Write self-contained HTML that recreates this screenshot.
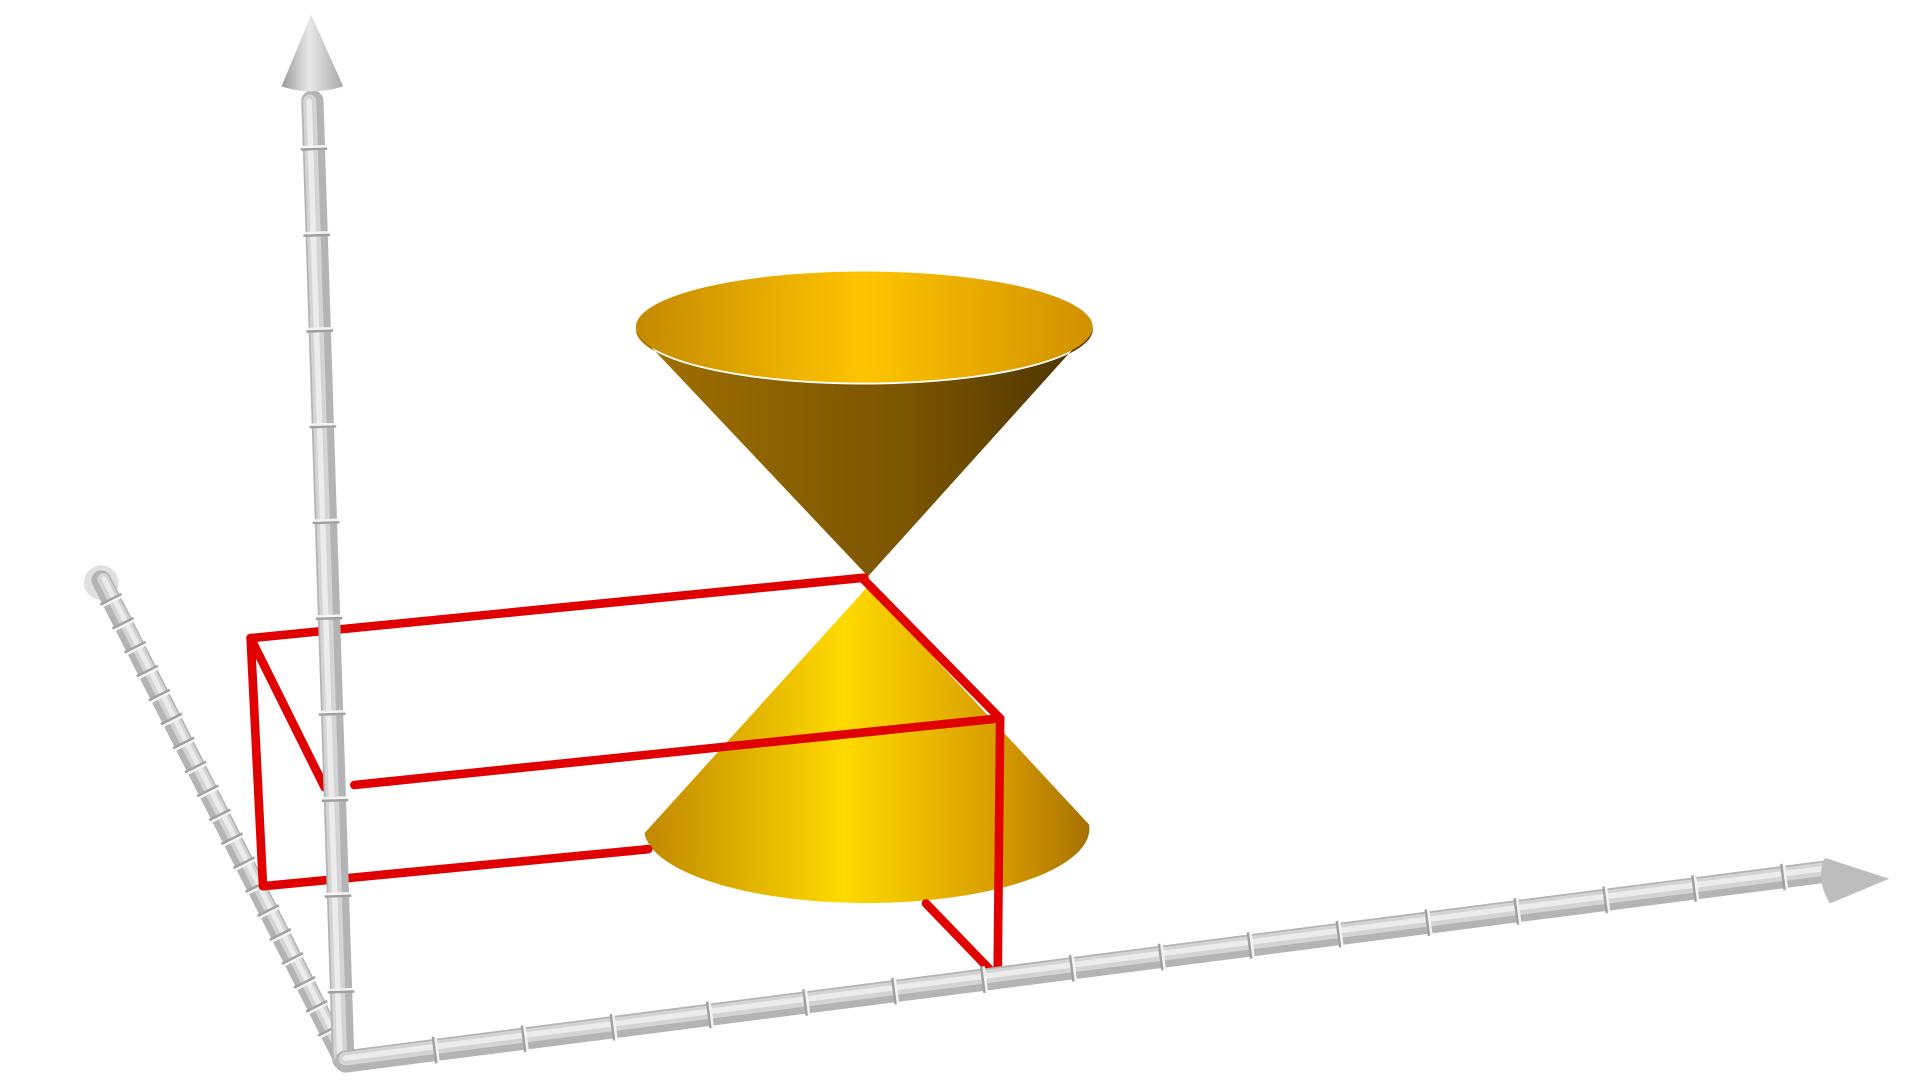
<!DOCTYPE html>
<html><head><meta charset="utf-8"><style>
html,body{margin:0;padding:0;background:#fff;width:1920px;height:1080px;overflow:hidden}
svg{display:block}
</style></head><body>
<svg id="chart" width="1920" height="1080" viewBox="0 0 1555 875" preserveAspectRatio="none" xmlns="http://www.w3.org/2000/svg">
<defs>
<linearGradient id="tube" x1="0" y1="0" x2="1" y2="0"><stop offset="0" stop-color="#9a9a9a"/><stop offset=".45" stop-color="#e8e8e8"/><stop offset="1" stop-color="#a8a8a8"/></linearGradient>
<linearGradient id="inner" x1="0" y1="0" x2="1" y2="0"><stop offset="0" stop-color="#c48a00"/><stop offset=".5" stop-color="#ffc400"/><stop offset="1" stop-color="#d09000"/></linearGradient>
<linearGradient id="outerTop" x1="0" y1="0" x2="1" y2="0"><stop offset="0" stop-color="#a07000"/><stop offset=".6" stop-color="#7a5400"/><stop offset="1" stop-color="#4a3300"/></linearGradient>
<linearGradient id="lower" x1="0" y1="0" x2="1" y2="0"><stop offset="0" stop-color="#c08800"/><stop offset=".45" stop-color="#ffda00"/><stop offset=".8" stop-color="#d79b00"/><stop offset="1" stop-color="#a67200"/></linearGradient>
</defs>
<g id="axes"></g>
<g id="cone"></g>
<g id="box"></g>
<g id="front"></g>
</svg>
<script>
// tick fractions along each axis
const xTicks = [0.06,0.12,0.18,0.245,0.31,0.37,0.43,0.49,0.55,0.61,0.67,0.73,0.79,0.85,0.91,0.97];
const yTicks = [0.07,0.17,0.27,0.36,0.46,0.56,0.66,0.76,0.86,0.95];
const zTicks = [0.04,0.09,0.14,0.19,0.24,0.29,0.34,0.39,0.44,0.49,0.54,0.59,0.64,0.69,0.74,0.79,0.84,0.89,0.94];
const boxEdges = [
 [[203,517],[700,468]],[[203,517],[263,638]],[[203,517],[213,718]],
 [[213,718],[525,688]],[[287,636],[810,582]],[[700,470],[810,582]],
 [[810,582],[808,790]],[[750,732],[806,790]]
];
const NS='http://www.w3.org/2000/svg';
function mk(tag,attrs,parent,name){const e=document.createElementNS(NS,tag);for(const k in attrs)e.setAttribute(k,attrs[k]);


parent.appendChild(e);return e;}
const axes=document.getElementById('axes'), front=document.getElementById('front');
function tube(p,q,parent,name,w){
 const dx=q[0]-p[0],dy=q[1]-p[1],L=Math.hypot(dx,dy),nx=-dy/L,ny=dx/L;
 mk('line',{x1:p[0],y1:p[1],x2:q[0],y2:q[1],stroke:'#b4b4b4','stroke-width':w,'stroke-linecap':'round'},parent,name);
 mk('line',{x1:p[0]-nx*w*0.12,y1:p[1]-ny*w*0.12,x2:q[0]-nx*w*0.12,y2:q[1]-ny*w*0.12,stroke:'#d4d4d4','stroke-width':w*0.6,'stroke-linecap':'round'},parent,name+'-shade');
 mk('line',{x1:p[0]-nx*w*0.15,y1:p[1]-ny*w*0.15,x2:q[0]-nx*w*0.15,y2:q[1]-ny*w*0.15,stroke:'#ececec','stroke-width':w*0.25,'stroke-linecap':'round'},parent,name+'-highlight');
}
function ticks(p,q,arr,parent,name,w){
 const dx=q[0]-p[0],dy=q[1]-p[1],L=Math.hypot(dx,dy),nx=-dy/L,ny=dx/L,ux=dx/L,uy=dy/L;
 arr.forEach(t=>{const cx=p[0]+dx*t,cy=p[1]+dy*t;
  mk('line',{x1:cx-nx*w*0.6,y1:cy-ny*w*0.6,x2:cx+nx*w*0.6,y2:cy+ny*w*0.6,stroke:'#a0a0a0','stroke-width':2},parent,name);
  mk('line',{x1:cx-nx*w*0.6+ux*2,y1:cy-ny*w*0.6+uy*2,x2:cx+nx*w*0.6+ux*2,y2:cy+ny*w*0.6+uy*2,stroke:'#f4f4f4','stroke-width':2},parent,name);});
}
// z (depth) axis
const zA=[82,470],zB=[278,858];
mk('circle',{cx:82,cy:472,r:14,fill:'#e0e0e0'},axes,'z-axis-end-cap');
tube(zA,zB,axes,'z-axis',16); ticks(zA,zB,zTicks,axes,'z-axis-tick',16);
// cones
const cone=document.getElementById('cone');
mk('path',{d:'M515,268 L703,467 L885,265 A185,45 0 0 1 515,268 Z',fill:'url(#outerTop)'},cone,'upper-cone-outer');
mk('ellipse',{cx:700,cy:265,rx:185,ry:45,fill:'url(#inner)'},cone,'upper-cone-inner');
mk('path',{d:'M703,475 L522,675 A180,60 0 0 0 882,668 Z',fill:'url(#lower)'},cone,'lower-cone');
// red box
const box=document.getElementById('box');
boxEdges.forEach(e=>mk('line',{x1:e[0][0],y1:e[0][1],x2:e[1][0],y2:e[1][1],stroke:'#e00000','stroke-width':7,'stroke-linecap':'round'},box,'box-edge'));
// y (vertical) axis drawn in front of box
const yA=[278,858],yB=[253,82];
tube(yA,yB,front,'y-axis',18); ticks(yA,yB,yTicks,front,'y-axis-tick',18);
mk('path',{d:'M252,12 L228,70 Q252,78 278,70 Z',fill:'url(#tube)'},front,'y-axis-arrowhead');
// x axis
const xA=[280,860],xB=[1480,706];
tube(xA,xB,front,'x-axis',18); ticks(xA,xB,xTicks,front,'x-axis-tick',18);
mk('path',{d:'M1530,712 L1478,695 Q1470,712 1482,732 Z',fill:'#bdbdbd'},front,'x-axis-arrowhead');
</script>
</body></html>
